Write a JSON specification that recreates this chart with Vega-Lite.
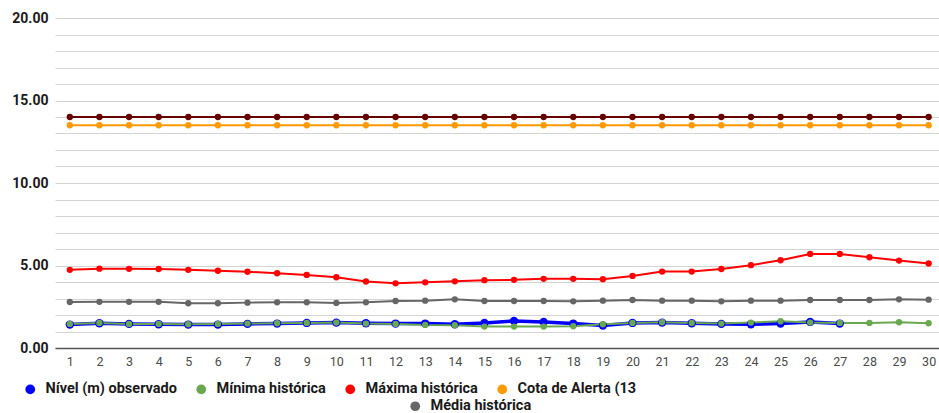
{
  "$schema": "https://vega.github.io/schema/vega-lite/v6.json",
  "width": 884,
  "height": 330,
  "autosize": {"type": "none"},
  "padding": {"left": 55, "top": 18, "right": 0, "bottom": 65},
  "background": "white",
  "config": {
    "view": {"stroke": null},
    "font": "Roboto",
    "legend": {
      "orient": "none",
      "direction": "horizontal",
      "title": null,
      "labelFont": "Roboto",
      "labelFontSize": 14.5,
      "labelFontWeight": "bold",
      "labelColor": "#1a1a1a",
      "symbolType": "circle",
      "symbolSize": 95,
      "symbolStrokeWidth": 0,
      "labelOffset": 8,
      "columnPadding": 17
    }
  },
  "data": {
    "values": [
      {"dia": 1, "Nível (m) observado": 1.42, "Mínima histórica": 1.46, "Máxima histórica": 4.74, "Cota de Alerta (13": 13.5, "Cota de Inundação": 14, "Média histórica": 2.79},
      {"dia": 2, "Nível (m) observado": 1.50, "Mínima histórica": 1.52, "Máxima histórica": 4.81, "Cota de Alerta (13": 13.5, "Cota de Inundação": 14, "Média histórica": 2.80},
      {"dia": 3, "Nível (m) observado": 1.46, "Mínima histórica": 1.46, "Máxima histórica": 4.80, "Cota de Alerta (13": 13.5, "Cota de Inundação": 14, "Média histórica": 2.80},
      {"dia": 4, "Nível (m) observado": 1.44, "Mínima histórica": 1.46, "Máxima histórica": 4.79, "Cota de Alerta (13": 13.5, "Cota de Inundação": 14, "Média histórica": 2.80},
      {"dia": 5, "Nível (m) observado": 1.42, "Mínima histórica": 1.44, "Máxima histórica": 4.74, "Cota de Alerta (13": 13.5, "Cota de Inundação": 14, "Média histórica": 2.71},
      {"dia": 6, "Nível (m) observado": 1.42, "Mínima histórica": 1.46, "Máxima histórica": 4.68, "Cota de Alerta (13": 13.5, "Cota de Inundação": 14, "Média histórica": 2.71},
      {"dia": 7, "Nível (m) observado": 1.46, "Mínima histórica": 1.48, "Máxima histórica": 4.62, "Cota de Alerta (13": 13.5, "Cota de Inundação": 14, "Média histórica": 2.75},
      {"dia": 8, "Nível (m) observado": 1.48, "Mínima histórica": 1.50, "Máxima histórica": 4.53, "Cota de Alerta (13": 13.5, "Cota de Inundação": 14, "Média histórica": 2.77},
      {"dia": 9, "Nível (m) observado": 1.52, "Mínima histórica": 1.52, "Máxima histórica": 4.43, "Cota de Alerta (13": 13.5, "Cota de Inundação": 14, "Média histórica": 2.77},
      {"dia": 10, "Nível (m) observado": 1.54, "Mínima histórica": 1.54, "Máxima histórica": 4.29, "Cota de Alerta (13": 13.5, "Cota de Inundação": 14, "Média histórica": 2.73},
      {"dia": 11, "Nível (m) observado": 1.50, "Mínima histórica": 1.48, "Máxima histórica": 4.03, "Cota de Alerta (13": 13.5, "Cota de Inundação": 14, "Média histórica": 2.77},
      {"dia": 12, "Nível (m) observado": 1.48, "Mínima histórica": 1.46, "Máxima histórica": 3.92, "Cota de Alerta (13": 13.5, "Cota de Inundação": 14, "Média histórica": 2.85},
      {"dia": 13, "Nível (m) observado": 1.48, "Mínima histórica": 1.40, "Máxima histórica": 3.98, "Cota de Alerta (13": 13.5, "Cota de Inundação": 14, "Média histórica": 2.87},
      {"dia": 14, "Nível (m) observado": 1.44, "Mínima histórica": 1.38, "Máxima histórica": 4.04, "Cota de Alerta (13": 13.5, "Cota de Inundação": 14, "Média histórica": 2.95},
      {"dia": 15, "Nível (m) observado": 1.52, "Mínima histórica": 1.30, "Máxima histórica": 4.11, "Cota de Alerta (13": 13.5, "Cota de Inundação": 14, "Média histórica": 2.85},
      {"dia": 16, "Nível (m) observado": 1.64, "Mínima histórica": 1.30, "Máxima histórica": 4.13, "Cota de Alerta (13": 13.5, "Cota de Inundação": 14, "Média histórica": 2.85},
      {"dia": 17, "Nível (m) observado": 1.58, "Mínima histórica": 1.30, "Máxima histórica": 4.19, "Cota de Alerta (13": 13.5, "Cota de Inundação": 14, "Média histórica": 2.85},
      {"dia": 18, "Nível (m) observado": 1.48, "Mínima histórica": 1.32, "Máxima histórica": 4.19, "Cota de Alerta (13": 13.5, "Cota de Inundação": 14, "Média histórica": 2.83},
      {"dia": 19, "Nível (m) observado": 1.36, "Mínima histórica": 1.44, "Máxima histórica": 4.17, "Cota de Alerta (13": 13.5, "Cota de Inundação": 14, "Média histórica": 2.87},
      {"dia": 20, "Nível (m) observado": 1.52, "Mínima histórica": 1.52, "Máxima histórica": 4.37, "Cota de Alerta (13": 13.5, "Cota de Inundação": 14, "Média histórica": 2.91},
      {"dia": 21, "Nível (m) observado": 1.54, "Mínima histórica": 1.56, "Máxima histórica": 4.63, "Cota de Alerta (13": 13.5, "Cota de Inundação": 14, "Média histórica": 2.87},
      {"dia": 22, "Nível (m) observado": 1.50, "Mínima histórica": 1.52, "Máxima histórica": 4.63, "Cota de Alerta (13": 13.5, "Cota de Inundação": 14, "Média histórica": 2.87},
      {"dia": 23, "Nível (m) observado": 1.46, "Mínima histórica": 1.48, "Máxima histórica": 4.79, "Cota de Alerta (13": 13.5, "Cota de Inundação": 14, "Média histórica": 2.83},
      {"dia": 24, "Nível (m) observado": 1.44, "Mínima histórica": 1.54, "Máxima histórica": 5.02, "Cota de Alerta (13": 13.5, "Cota de Inundação": 14, "Média histórica": 2.87},
      {"dia": 25, "Nível (m) observado": 1.48, "Mínima histórica": 1.62, "Máxima histórica": 5.32, "Cota de Alerta (13": 13.5, "Cota de Inundação": 14, "Média histórica": 2.87},
      {"dia": 26, "Nível (m) observado": 1.58, "Mínima histórica": 1.54, "Máxima histórica": 5.70, "Cota de Alerta (13": 13.5, "Cota de Inundação": 14, "Média histórica": 2.91},
      {"dia": 27, "Nível (m) observado": 1.48, "Mínima histórica": 1.52, "Máxima histórica": 5.70, "Cota de Alerta (13": 13.5, "Cota de Inundação": 14, "Média histórica": 2.91},
      {"dia": 28, "Nível (m) observado": null, "Mínima histórica": 1.52, "Máxima histórica": 5.50, "Cota de Alerta (13": 13.5, "Cota de Inundação": 14, "Média histórica": 2.91},
      {"dia": 29, "Nível (m) observado": null, "Mínima histórica": 1.56, "Máxima histórica": 5.30, "Cota de Alerta (13": 13.5, "Cota de Inundação": 14, "Média histórica": 2.95},
      {"dia": 30, "Nível (m) observado": null, "Mínima histórica": 1.50, "Máxima histórica": 5.12, "Cota de Alerta (13": 13.5, "Cota de Inundação": 14, "Média histórica": 2.93}
    ]
  },
  "transform": [
    {"fold": ["Nível (m) observado", "Mínima histórica", "Máxima histórica", "Cota de Alerta (13", "Cota de Inundação", "Média histórica"], "as": ["serie", "nivel"]},
    {"filter": "datum.nivel != null"}
  ],
  "encoding": {
    "x": {
      "field": "dia", "type": "quantitative",
      "scale": {"domain": [0.5, 30.35], "nice": false, "zero": false},
      "axis": {
        "title": null,
        "values": [1,2,3,4,5,6,7,8,9,10,11,12,13,14,15,16,17,18,19,20,21,22,23,24,25,26,27,28,29,30],
        "format": "d",
        "grid": false,
        "ticks": false,
        "domain": true,
        "domainColor": "#555555",
        "domainWidth": 1.5,
        "labelFont": "Roboto",
        "labelFontSize": 12.5,
        "labelColor": "#4a4a4a",
        "labelPadding": 7,
        "labelFlush": false,
        "labelOverlap": false
      }
    },
    "y": {
      "field": "nivel", "type": "quantitative",
      "scale": {"domain": [0, 20], "nice": false},
      "axis": {
        "title": null,
        "values": [0,1,2,3,4,5,6,7,8,9,10,11,12,13,14,15,16,17,18,19,20],
        "labelExpr": "datum.value % 5 === 0 ? format(datum.value, '.2f') : ''",
        "grid": true,
        "gridColor": "#d4d4d4",
        "gridWidth": 1,
        "ticks": false,
        "domain": false,
        "labelFont": "Roboto",
        "labelFontSize": 14,
        "labelFontWeight": "bold",
        "labelColor": "#1a1a1a",
        "labelPadding": 7,
        "labelOverlap": false
      }
    }
  },
  "layer": [
    {
      "transform": [{"filter": "datum.serie === 'Nível (m) observado'"}],
      "mark": {"type": "line", "strokeWidth": 3.5},
      "encoding": {
        "color": {"field": "serie", "type": "nominal", "legend": null,
          "scale": {"domain": ["Nível (m) observado", "Mínima histórica", "Máxima histórica", "Cota de Alerta (13", "Cota de Inundação", "Média histórica"],
                    "range": ["#0000ff", "#6aa84f", "#ff0000", "#ff9900", "#660000", "#666666"]}}
      }
    },
    {
      "transform": [{"filter": "datum.serie !== 'Nível (m) observado'"}],
      "mark": {"type": "line", "strokeWidth": 2},
      "encoding": {
        "color": {"field": "serie", "type": "nominal", "legend": null,
          "scale": {"domain": ["Nível (m) observado", "Mínima histórica", "Máxima histórica", "Cota de Alerta (13", "Cota de Inundação", "Média histórica"],
                    "range": ["#0000ff", "#6aa84f", "#ff0000", "#ff9900", "#660000", "#666666"]}}
      }
    },
    {
      "transform": [{"filter": "datum.serie === 'Nível (m) observado'"}],
      "mark": {"type": "point", "filled": true, "opacity": 1, "size": 70},
      "encoding": {
        "color": {"field": "serie", "type": "nominal", "legend": null,
          "scale": {"domain": ["Nível (m) observado", "Mínima histórica", "Máxima histórica", "Cota de Alerta (13", "Cota de Inundação", "Média histórica"],
                    "range": ["#0000ff", "#6aa84f", "#ff0000", "#ff9900", "#660000", "#666666"]}}
      }
    },
    {
      "transform": [{"filter": "datum.serie !== 'Média histórica'"}],
      "mark": {"type": "point", "filled": true, "opacity": 1, "size": 40},
      "encoding": {
        "color": {"field": "serie", "type": "nominal",
          "scale": {"domain": ["Nível (m) observado", "Mínima histórica", "Máxima histórica", "Cota de Alerta (13", "Cota de Inundação", "Média histórica"],
                    "range": ["#0000ff", "#6aa84f", "#ff0000", "#ff9900", "#660000", "#666666"]},
          "legend": {"values": ["Nível (m) observado", "Mínima histórica", "Máxima histórica", "Cota de Alerta (13"], "legendX": -32, "legendY": 364}}
      }
    },
    {
      "transform": [{"filter": "datum.serie === 'Média histórica'"}],
      "mark": {"type": "point", "filled": true, "opacity": 1, "size": 40},
      "encoding": {
        "color": {"field": "serie", "type": "nominal",
          "scale": {"domain": ["Média histórica"], "range": ["#666666"]},
          "legend": {"legendX": 353, "legendY": 381}}
      }
    }
  ],
  "resolve": {"scale": {"color": "independent"}, "legend": {"color": "independent"}}
}
